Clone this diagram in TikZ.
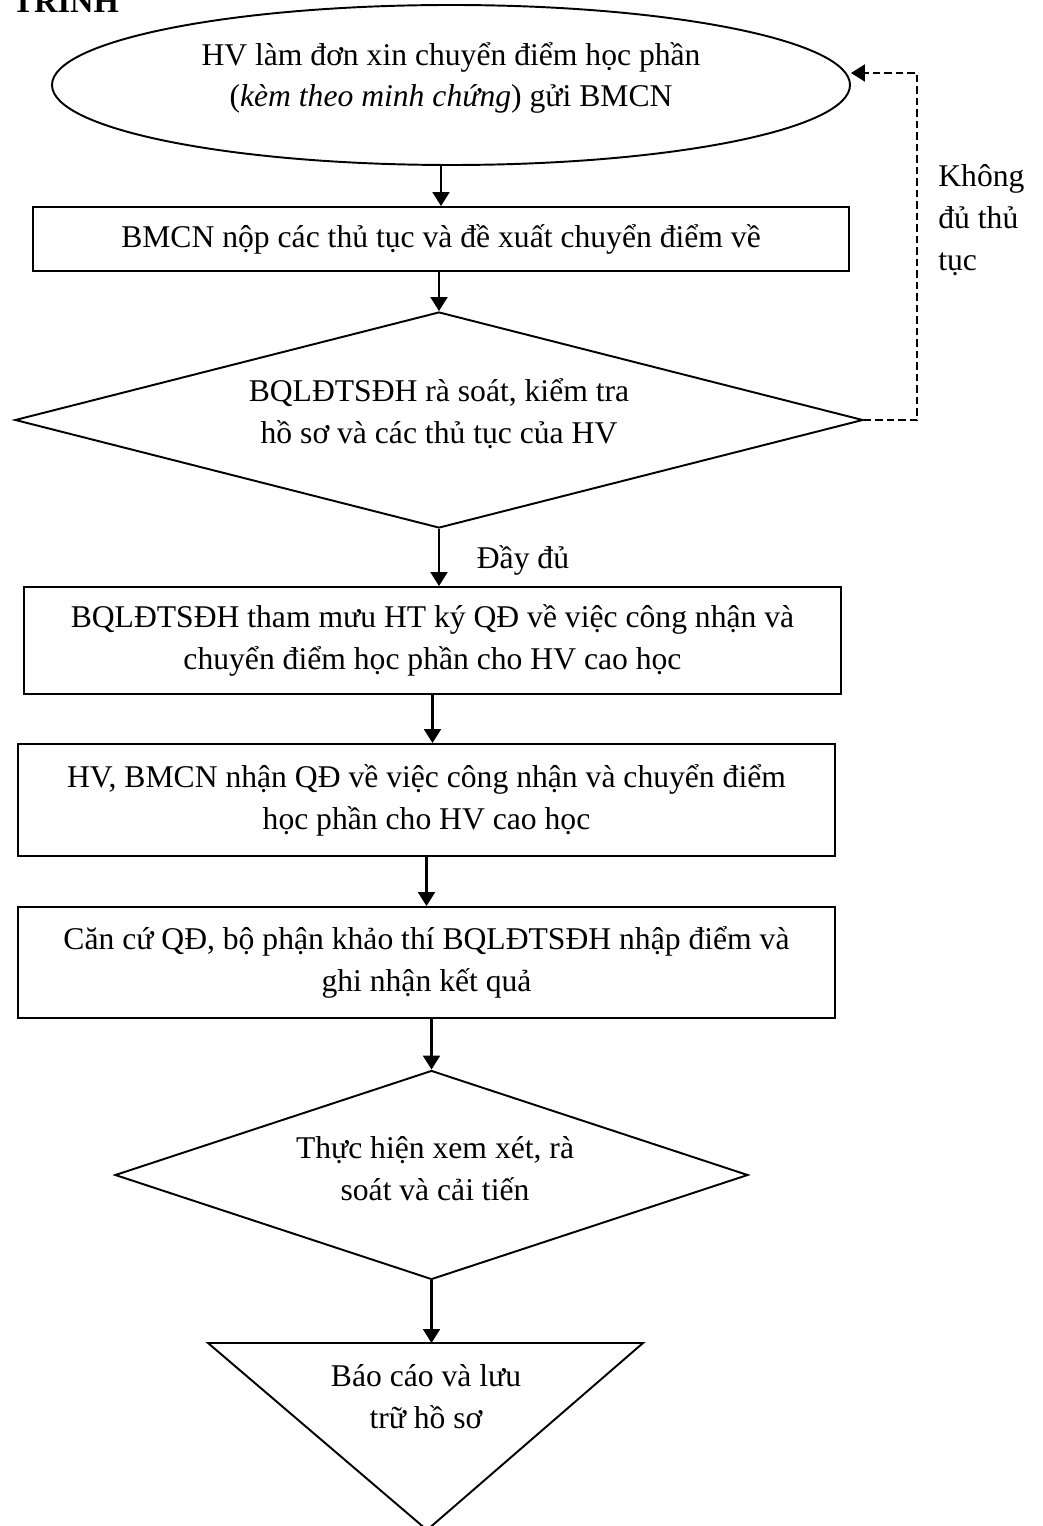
\documentclass[tikz,border=0pt]{standalone}
\usepackage{fontspec}
\setmainfont{Liberation Serif}
\usetikzlibrary{shapes.geometric,arrows.meta}

\begin{document}
\begin{tikzpicture}[
    every node/.style={font=\fontsize{18}{23.8}\selectfont},
    box/.style={draw,line width=1.1pt,rectangle,inner sep=0pt,align=center,minimum width=16.34cm},
    dec/.style={draw,line width=1.1pt,diamond,inner sep=0pt},
    txt/.style={align=center,inner sep=0pt},
    flow/.style={line width=1.2pt,-{Triangle[length=0.28cm,width=0.34cm]}},
    back/.style={flow,dash pattern=on 0.15cm off 0.08cm}]
      \useasboundingbox (0,0) rectangle (20.84,-30.52);
      \node[anchor=base west,inner sep=0pt,font=\fontsize{18.5}{23.8}\selectfont\bfseries] (title) at (0.24,-0.26) {TRÌNH};

      \node[draw,ellipse,line width=1.1pt,inner sep=0pt,minimum width=15.96cm,minimum height=3.2cm] (start) at (9.02,-1.70) {};
      \node[txt] (startText) at (9.02,-1.56) {HV làm đơn xin chuyển điểm học phần\\(\textit{kèm theo minh chứng}) gửi BMCN};
      \node[box,minimum width=16.32cm,minimum height=1.28cm] (box1) at (8.82,-4.78) {BMCN nộp các thủ tục và đề xuất chuyển điểm về};
      \node[dec,minimum width=16.96cm,minimum height=4.32cm] (dec1) at (8.78,-8.40) {};
      \node[txt] (dec1Text) at (8.78,-8.28) {BQLĐTSĐH rà soát, kiểm tra\\hồ sơ và các thủ tục của HV};
      \node[box,minimum height=2.14cm] (box2) at (8.65,-12.81) {BQLĐTSĐH tham mưu HT ký QĐ về việc công nhận và\\chuyển điểm học phần cho HV cao học};
      \node[box,minimum height=2.24cm] (box3) at (8.53,-16.00) {HV, BMCN nhận QĐ về việc công nhận và chuyển điểm\\học phần cho HV cao học};
      \node[box,minimum height=2.22cm] (box4) at (8.53,-19.25) {Căn cứ QĐ, bộ phận khảo thí BQLĐTSĐH nhập điểm và\\ghi nhận kết quả};
      \node[dec,minimum width=12.66cm,minimum height=4.18cm] (dec2) at (8.63,-23.50) {};
      \node[txt] (dec2Text) at (8.70,-23.38) {Thực hiện xem xét, rà\\soát và cải tiến};

      % luu tru
      \coordinate (st1) at (4.16,-26.86);
      \coordinate (st2) at (12.86,-26.86);
      \coordinate (st3) at (8.54,-30.60);
      \coordinate (store) at (8.63,-26.86);
      \draw[line width=1.1pt] (st1) -- (st2) -- (st3) -- cycle;
      \node[txt] (storeText) at (8.52,-27.94) {Báo cáo và lưu\\trữ hồ sơ};

      \draw[flow] (box1.north |- start.south) -- (box1.north);%start-1
      \draw[flow] (dec1.north |- box1.south) -- (dec1.north);%1-dec1
      \draw[flow] (dec1.south) -- (dec1.south |- box2.north);%dec1-2
      \draw[flow] (box2.south) -- (box2.south |- box3.north);%2-3
      \draw[flow] (box3.south) -- (box3.south |- box4.north);%3-4
      \draw[flow] (dec2.north |- box4.south) -- (dec2.north);%4-dec2
      \draw[flow] (dec2.south) -- (dec2.south |- store);%dec2-store

      \coordinate (loop) at (18.34,-1.46);
      \draw[back] (dec1.east) -| (loop) -- (start.east |- loop);%dec1-start
      \node[anchor=west,align=left,inner sep=0pt] (noLabel) at (18.76,-4.40) {Không\\đủ thủ\\tục};
      \node[inner sep=0pt] (yesLabel) at (10.46,-11.20) {Đầy đủ};
\end{tikzpicture}
\end{document}
